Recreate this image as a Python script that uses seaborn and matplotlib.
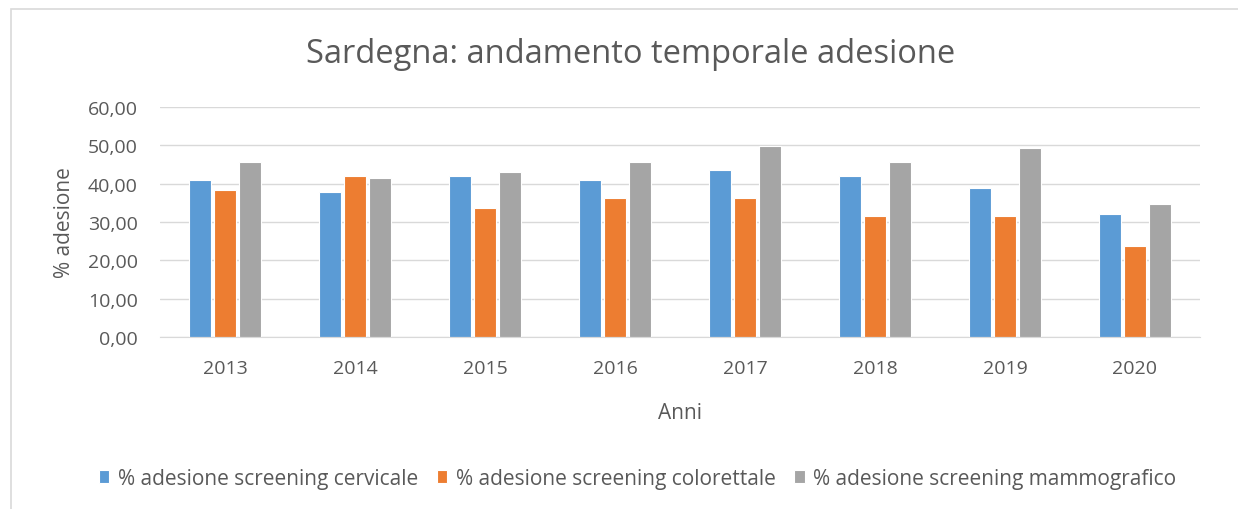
import matplotlib
matplotlib.use("Agg")
import matplotlib.pyplot as plt
from matplotlib.patches import Rectangle
from matplotlib.ticker import FuncFormatter
import pandas as pd
import seaborn as sns

# values
anni = ["2013", "2014", "2015", "2016", "2017", "2018", "2019", "2020"]
cervicale = [41.0, 37.7, 42.0, 41.0, 43.6, 42.0, 38.9, 32.1]
colorettale = [38.3, 42.0, 33.7, 36.3, 36.3, 31.6, 31.6, 23.7]
mammografico = [45.7, 41.5, 43.0, 45.7, 49.9, 45.7, 49.3, 34.7]

serie = {
    "% adesione screening cervicale": cervicale,
    "% adesione screening colorettale": colorettale,
    "% adesione screening mammografico": mammografico,
}
colori = ["#5B9BD5", "#ED7D31", "#A5A5A5"]
grigio = "#595959"

rows = []
for nome, valori in serie.items():
    for anno, v in zip(anni, valori):
        rows.append({"Anni": anno, "valore": v, "serie": nome})
df = pd.DataFrame(rows)

sns.set_style("white")
plt.rcParams["font.family"] = ["Open Sans", "DejaVu Sans"]

fig = plt.figure(figsize=(12.38, 5.10), dpi=100)
ax = fig.add_axes([0.1292, 0.3373, 0.8401, 0.4510])

sns.barplot(data=df, x="Anni", y="valore", hue="serie", palette=colori,
            saturation=1, width=0.58, gap=0.14, ax=ax, edgecolor="white",
            linewidth=0.8, errorbar=None)

ax.set_ylim(0, 60)
ax.set_xlim(-0.5, len(anni) - 0.5)
ax.set_yticks(range(0, 61, 10))
ax.yaxis.set_major_formatter(FuncFormatter(lambda v, p: f"{v:.2f}".replace(".", ",")))
ax.grid(axis="y", color="#D9D9D9", linewidth=1)
ax.set_axisbelow(True)
for s in ["top", "right", "left"]:
    ax.spines[s].set_visible(False)
ax.spines["bottom"].set_color("#D9D9D9")
ax.tick_params(axis="both", length=0, labelsize=14, labelcolor=grigio)
ax.tick_params(axis="y", pad=16)
ax.tick_params(axis="x", pad=16)

ax.set_xlabel("Anni", fontsize=15, color=grigio, labelpad=18)
ax.set_ylabel("% adesione", fontsize=15, color=grigio, labelpad=9)
fig.suptitle("Sardegna: andamento temporale adesione", x=0.509, y=0.925,
             fontsize=23.5, color=grigio)

handles, labels = ax.get_legend_handles_labels()
ax.legend_.remove()
fig.legend(handles, labels, loc="center", bbox_to_anchor=(0.515, 0.06), ncol=3,
           frameon=False, fontsize=15, labelcolor=grigio,
           handlelength=0.5, handleheight=0.6, handletextpad=0.4, columnspacing=0.9)

fig.patches.append(Rectangle((11 / 1238, -0.1), 1.2, 1 - 10 / 510 + 0.1,
                             transform=fig.transFigure, fill=False,
                             edgecolor="#D9D9D9", linewidth=1.2))

fig.savefig("out.png", dpi=100)
